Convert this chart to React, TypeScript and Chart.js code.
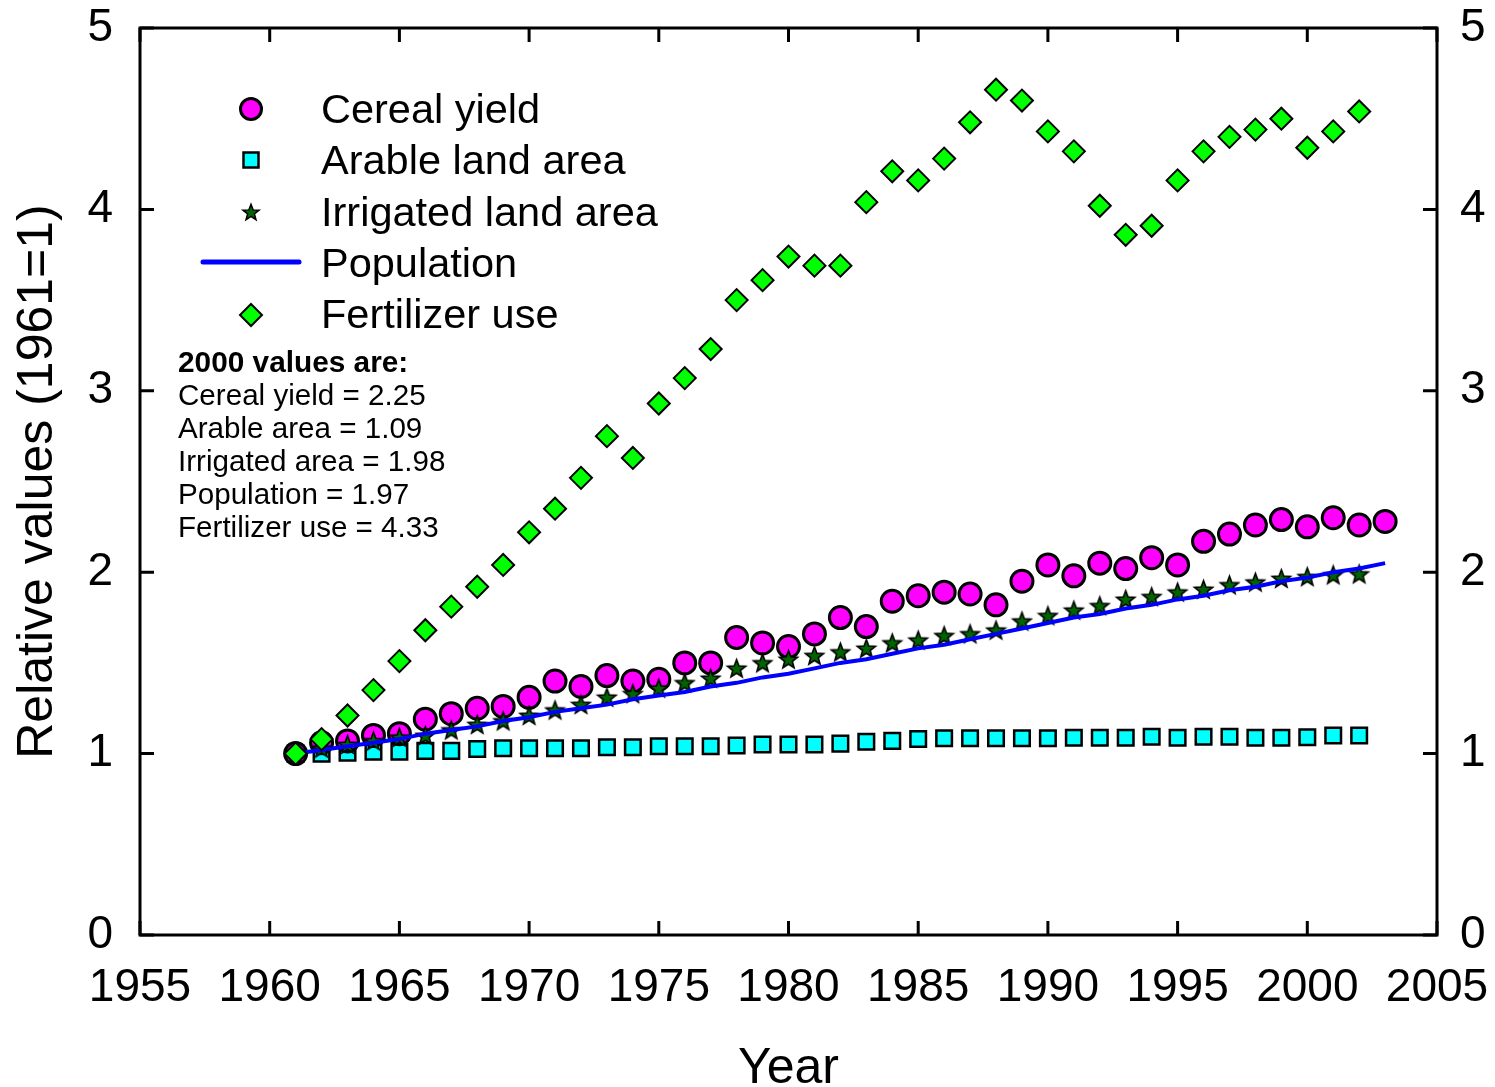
import React, { useEffect, useRef } from 'react';
import { Chart, registerables } from 'chart.js';

Chart.register(...registerables);

const years = [
  1961, 1962, 1963, 1964, 1965, 1966, 1967, 1968, 1969, 1970,
  1971, 1972, 1973, 1974, 1975, 1976, 1977, 1978, 1979, 1980,
  1981, 1982, 1983, 1984, 1985, 1986, 1987, 1988, 1989, 1990,
  1991, 1992, 1993, 1994, 1995, 1996, 1997, 1998, 1999, 2000,
  2001, 2002, 2003,
];

const cerealYield = [
  1.0, 1.06, 1.07, 1.1, 1.11, 1.19, 1.22, 1.25, 1.26, 1.31,
  1.4, 1.37, 1.43, 1.4, 1.41, 1.5, 1.5, 1.64, 1.61, 1.59,
  1.66, 1.75, 1.7, 1.84, 1.87, 1.89, 1.88, 1.82, 1.95, 2.04,
  1.98, 2.05, 2.02, 2.08, 2.04, 2.17, 2.21, 2.26, 2.29, 2.25,
  2.3, 2.26, 2.28,
];

const arableLand = [
  1.0, 1.0, 1.005, 1.01, 1.01, 1.015, 1.015, 1.025, 1.03, 1.03,
  1.03, 1.03, 1.035, 1.035, 1.04, 1.04, 1.04, 1.045, 1.05, 1.05,
  1.05, 1.055, 1.065, 1.07, 1.08, 1.085, 1.085, 1.085, 1.085, 1.085,
  1.087, 1.087, 1.087, 1.093, 1.087, 1.093, 1.093, 1.087, 1.087, 1.09,
  1.1, 1.1,
];

const irrigatedLand = [
  1.0, 1.03, 1.05, 1.07, 1.09, 1.1, 1.13, 1.16, 1.18, 1.21,
  1.24, 1.27, 1.31, 1.33, 1.36, 1.39, 1.415, 1.47, 1.5, 1.52,
  1.54, 1.56, 1.58, 1.61, 1.625, 1.65, 1.66, 1.68, 1.73, 1.76,
  1.79, 1.815, 1.85, 1.865, 1.89, 1.905, 1.93, 1.945, 1.965, 1.975,
  1.985, 1.99,
];

const population = [
  1.0, 1.02, 1.04, 1.06, 1.08, 1.11, 1.13, 1.15, 1.18, 1.2,
  1.23, 1.25, 1.27, 1.3, 1.32, 1.34, 1.37, 1.39, 1.42, 1.44,
  1.47, 1.5, 1.52, 1.55, 1.58, 1.6, 1.63, 1.66, 1.69, 1.72,
  1.75, 1.77, 1.8, 1.82, 1.85, 1.87, 1.9, 1.92, 1.95, 1.97,
  2.0, 2.02, 2.05,
];

const fertilizerUse = [
  1.0, 1.08, 1.21, 1.35, 1.51, 1.68, 1.81, 1.92, 2.04, 2.22,
  2.35, 2.52, 2.75, 2.63, 2.93, 3.07, 3.23, 3.5, 3.61, 3.74,
  3.69, 3.69, 4.04, 4.21, 4.16, 4.28, 4.48, 4.66, 4.6, 4.43,
  4.32, 4.02, 3.86, 3.91, 4.16, 4.32, 4.4, 4.44, 4.5, 4.34,
  4.43, 4.54,
];

const xTickValues = [1955, 1960, 1965, 1970, 1975, 1980, 1985, 1990, 1995, 2000, 2005];
const yTickValues = [0, 1, 2, 3, 4, 5];

const legendLabels = ['Cereal yield', 'Arable land area', 'Irrigated land area', 'Population', 'Fertilizer use'];
const noteTitle = '2000 values are:';
const noteLines = [
  'Cereal yield = 2.25',
  'Arable area = 1.09',
  'Irrigated area = 1.98',
  'Population = 1.97',
  'Fertilizer use = 4.33',
];
const xTitle = 'Year';
const yTitle = 'Relative values (1961=1)';

const FONT = "'Liberation Sans', Arial, Helvetica, sans-serif";
const MAGENTA = '#FF00FF';
const CYAN = '#00FFFF';
const DARKGREEN = '#006400';
const BLUE = '#0000FF';
const GREEN = '#00FF00';

function pts(vals: number[]) {
  return vals.map((v, i) => ({ x: years[i], y: v }));
}

function starPath(ctx: CanvasRenderingContext2D, cx: number, cy: number, outer: number, inner: number) {
  ctx.beginPath();
  for (let i = 0; i < 10; i++) {
    const r = i % 2 === 0 ? outer : inner;
    const a = -Math.PI / 2 + (i * Math.PI) / 5;
    const px = cx + r * Math.cos(a);
    const py = cy + r * Math.sin(a);
    if (i === 0) ctx.moveTo(px, py);
    else ctx.lineTo(px, py);
  }
  ctx.closePath();
}

function makeStar(outer: number, inner: number) {
  const c = document.createElement('canvas');
  const s = Math.ceil(outer * 2 + 4);
  c.width = s;
  c.height = s;
  const ctx = c.getContext('2d')!;
  starPath(ctx, s / 2, s / 2 + 0.8, outer, inner);
  ctx.fillStyle = DARKGREEN;
  ctx.fill();
  ctx.lineWidth = 1.6;
  ctx.lineJoin = 'miter';
  ctx.strokeStyle = '#000';
  ctx.stroke();
  return c;
}

const framePlugin = {
  id: 'frameTicks',
  afterDatasetsDraw(chart: any) {
    const ctx = chart.ctx as CanvasRenderingContext2D;
    const { left, right, top, bottom } = chart.chartArea;
    const xs = chart.scales.x;
    const ys = chart.scales.y;
    const tl = 14;
    ctx.save();
    ctx.strokeStyle = '#000';
    ctx.lineWidth = 3;
    ctx.beginPath();
    for (const v of xTickValues) {
      const px = xs.getPixelForValue(v);
      ctx.moveTo(px, bottom);
      ctx.lineTo(px, bottom - tl);
      ctx.moveTo(px, top);
      ctx.lineTo(px, top + tl);
    }
    for (const v of yTickValues) {
      const py = ys.getPixelForValue(v);
      ctx.moveTo(left, py);
      ctx.lineTo(left + tl, py);
      ctx.moveTo(right, py);
      ctx.lineTo(right - tl, py);
    }
    ctx.stroke();
    ctx.lineWidth = 3;
    ctx.strokeRect(left, top, right - left, bottom - top);
    ctx.restore();
  },
  afterDraw(chart: any) {
    const ctx = chart.ctx as CanvasRenderingContext2D;
    const { left, right, top, bottom } = chart.chartArea;
    ctx.save();
    // Legend
    const mx = 251;
    const rows = [109, 160, 212, 262, 315];
    const baselines = [123, 174, 226, 277, 328];
    // circle
    ctx.beginPath();
    ctx.arc(mx, rows[0], 10.5, 0, Math.PI * 2);
    ctx.fillStyle = MAGENTA;
    ctx.fill();
    ctx.lineWidth = 3;
    ctx.strokeStyle = '#000';
    ctx.stroke();
    // square
    ctx.fillStyle = CYAN;
    ctx.fillRect(mx - 7.5, rows[1] - 7.5, 15, 15);
    ctx.lineWidth = 2.5;
    ctx.strokeRect(mx - 7.5, rows[1] - 7.5, 15, 15);
    // star
    starPath(ctx, mx, rows[2] + 0.8, 8.5, 3.6);
    ctx.fillStyle = DARKGREEN;
    ctx.fill();
    ctx.lineWidth = 1.5;
    ctx.stroke();
    // line
    ctx.beginPath();
    ctx.moveTo(203, rows[3]);
    ctx.lineTo(299, rows[3]);
    ctx.strokeStyle = BLUE;
    ctx.lineWidth = 5;
    ctx.lineCap = 'round';
    ctx.stroke();
    ctx.lineCap = 'butt';
    // diamond
    ctx.beginPath();
    ctx.moveTo(mx, rows[4] - 11);
    ctx.lineTo(mx + 11, rows[4]);
    ctx.lineTo(mx, rows[4] + 11);
    ctx.lineTo(mx - 11, rows[4]);
    ctx.closePath();
    ctx.fillStyle = GREEN;
    ctx.fill();
    ctx.strokeStyle = '#000';
    ctx.lineWidth = 2;
    ctx.stroke();

    ctx.fillStyle = '#000';
    ctx.textAlign = 'left';
    ctx.textBaseline = 'alphabetic';
    ctx.font = `41.5px ${FONT}`;
    legendLabels.forEach((t, i) => ctx.fillText(t, 321, baselines[i]));

    // Note
    ctx.font = `bold 29.8px ${FONT}`;
    ctx.fillText(noteTitle, 178, 372);
    ctx.font = `29.6px ${FONT}`;
    noteLines.forEach((t, i) => ctx.fillText(t, 178, 405 + i * 33));

    // Axis titles
    ctx.font = `50px ${FONT}`;
    ctx.textAlign = 'center';
    ctx.fillText(xTitle, (left + right) / 2, 1083);
    ctx.save();
    ctx.translate(52, (top + bottom) / 2);
    ctx.rotate(-Math.PI / 2);
    ctx.fillText(yTitle, 0, 0);
    ctx.restore();
    ctx.restore();
  },
};

export default function App() {
  const ref = useRef<HTMLCanvasElement | null>(null);

  useEffect(() => {
    document.body.style.margin = '0';
    document.body.style.overflow = 'hidden';
    const canvas = ref.current;
    if (!canvas) return;
    const starImg = makeStar(9.5, 4);
    const tickFont = { family: FONT, size: 46 };
    const fitX = (s: any) => {
      s.height = 152;
      s.paddingLeft = 0;
      s.paddingRight = 0;
    };
    const fitY = (w: number) => (s: any) => {
      s.width = w;
      s.paddingTop = 0;
      s.paddingBottom = 0;
    };
    const chart = new Chart(canvas, {
      type: 'scatter',
      data: {
        datasets: [
          {
            label: 'Cereal yield',
            data: pts(cerealYield),
            pointStyle: 'circle',
            pointRadius: 11,
            backgroundColor: MAGENTA,
            borderColor: '#000',
            borderWidth: 3,
            order: 4,
          } as any,
          {
            label: 'Arable land area',
            data: pts(arableLand),
            pointStyle: 'rect',
            pointRadius: 11,
            backgroundColor: CYAN,
            borderColor: '#000',
            borderWidth: 2.5,
            order: 5,
          },
          {
            label: 'Irrigated land area',
            data: pts(irrigatedLand),
            pointStyle: starImg,
            pointRadius: 9,
            order: 3,
          },
          {
            label: 'Population',
            type: 'line',
            data: pts(population),
            showLine: true,
            borderColor: BLUE,
            borderWidth: 4,
            pointRadius: 0,
            fill: false,
            tension: 0,
            order: 2,
          },
          {
            label: 'Fertilizer use',
            data: pts(fertilizerUse),
            pointStyle: 'rectRot',
            pointRadius: 11,
            backgroundColor: GREEN,
            borderColor: '#000',
            borderWidth: 2,
            order: 1,
          },
        ],
      },
      options: {
        responsive: false,
        animation: false,
        devicePixelRatio: 1,
        events: [],
        layout: { padding: { top: 28, left: 0, right: 0, bottom: 0 } },
        plugins: { legend: { display: false }, tooltip: { enabled: false }, title: { display: false } },
        scales: {
          x: {
            type: 'linear',
            position: 'bottom',
            min: 1955,
            max: 2005,
            ticks: {
              stepSize: 5,
              autoSkip: false,
              maxRotation: 0,
              padding: 26,
              color: '#000',
              font: tickFont,
              callback: (v: any) => String(v),
            },
            grid: { display: false, drawTicks: false },
            border: { display: false },
            afterFit: fitX,
          },
          y: {
            type: 'linear',
            position: 'left',
            min: 0,
            max: 5,
            ticks: { stepSize: 1, padding: 27, color: '#000', font: tickFont, callback: (v: any) => String(v) },
            grid: { display: false, drawTicks: false },
            border: { display: false },
            afterFit: fitY(140),
          },
          y2: {
            type: 'linear',
            position: 'right',
            min: 0,
            max: 5,
            ticks: { stepSize: 1, padding: 23, color: '#000', font: tickFont, callback: (v: any) => String(v) },
            grid: { display: false, drawTicks: false },
            border: { display: false },
            afterFit: fitY(58),
          },
        },
      },
      plugins: [framePlugin],
    } as any);
    return () => chart.destroy();
  }, []);

  return (
    <div style={{ width: 1495, height: 1087, background: '#fff' }}>
      <canvas ref={ref} width={1495} height={1087} style={{ display: 'block' }} />
    </div>
  );
}
